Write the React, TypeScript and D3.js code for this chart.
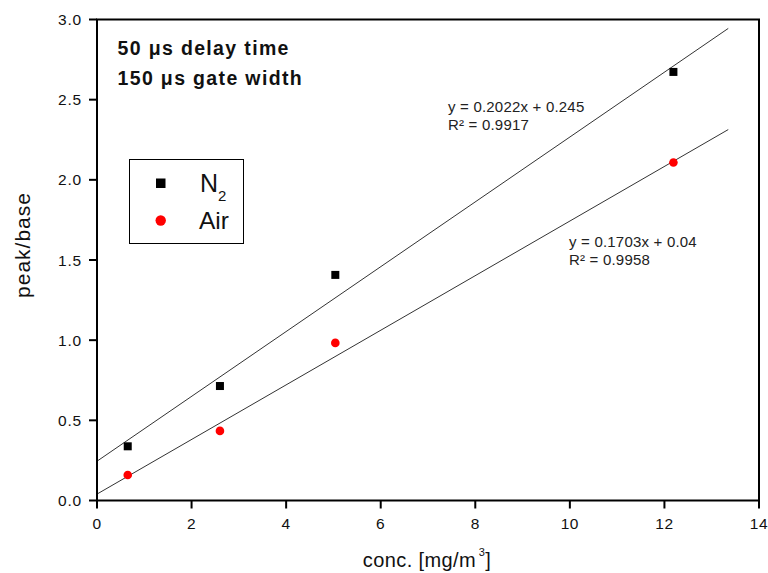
import React from "react";
import * as d3 from "d3";

const concN2 = [0.65, 2.6, 5.04, 12.19];
const peakN2 = [0.338, 0.714, 1.407, 2.673];
const concAir = [0.65, 2.6, 5.04, 12.19];
const peakAir = [0.159, 0.434, 0.983, 2.108];

const fitN2 = { slope: 0.2022, intercept: 0.245, r2: "0.9917" };
const fitAir = { slope: 0.1703, intercept: 0.04, r2: "0.9958" };
const fitRange = [0, 13.35];

const xTicks = [0, 2, 4, 6, 8, 10, 12, 14];
const yTicks = [0, 0.5, 1.0, 1.5, 2.0, 2.5, 3.0];

const W = 768;
const H = 573;
const L = 97;
const R = 759;
const T = 19.5;
const B = 500.5;

export default function App() {
  const x = d3.scaleLinear().domain([0, 14]).range([L, R]);
  const y = d3.scaleLinear().domain([0, 3]).range([B, T]);
  const line = d3
    .line<number>()
    .x((d) => x(d[0]))
    .y((d) => y(d[1]));
  const fitPath = (f: { slope: number; intercept: number }) =>
    line(fitRange.map((v) => [v, f.slope * v + f.intercept]) as any) as string;
  const font = "'Liberation Sans', Arial, sans-serif";

  return (
    <svg
      width={W}
      height={H}
      style={{ position: "absolute", left: 0, top: 0, background: "#fff" }}
      fontFamily={font}
    >
      <rect x={0} y={0} width={W} height={H} fill="#fff" />
      {/* fit lines */}
      <path d={fitPath(fitN2)} fill="none" stroke="#333" strokeWidth={1} />
      <path d={fitPath(fitAir)} fill="none" stroke="#333" strokeWidth={1} />
      {/* frame */}
      <rect x={L} y={T} width={R - L} height={B - T} fill="none" stroke="#000" strokeWidth={2} />
      {/* x ticks */}
      {xTicks.map((t) => (
        <g key={"x" + t}>
          <line x1={x(t)} x2={x(t)} y1={B} y2={B + 8} stroke="#000" strokeWidth={2} />
          <text x={x(t)} y={529} textAnchor="middle" fontSize={15.5} letterSpacing={0.6} fill="#111">
            {t}
          </text>
        </g>
      ))}
      {/* y ticks */}
      {yTicks.map((t) => (
        <g key={"y" + t}>
          <line x1={L - 8} x2={L} y1={y(t)} y2={y(t)} stroke="#000" strokeWidth={2} />
          <text x={82} y={y(t)} dy="0.36em" textAnchor="end" fontSize={15.5} letterSpacing={0.8} fill="#111">
            {t.toFixed(1)}
          </text>
        </g>
      ))}
      {/* points */}
      {concN2.map((c, i) => (
        <rect key={"n" + i} x={x(c) - 4} y={y(peakN2[i]) - 4} width={8} height={8} fill="#000" />
      ))}
      {concAir.map((c, i) => (
        <circle key={"a" + i} cx={x(c)} cy={y(peakAir[i])} r={4.3} fill="#ff0000" />
      ))}
      {/* axis labels */}
      <text x={427} y={566.5} textAnchor="middle" fontSize={20} letterSpacing={0.4} fill="#111">
        conc. [mg/m
        <tspan dy={-11} fontSize={11}>{"\u2009"}3</tspan>
        <tspan dy={11}>]</tspan>
      </text>
      <text
        transform={`translate(30,245) rotate(-90)`}
        textAnchor="middle"
        fontSize={21}
        letterSpacing={1}
        fill="#111"
      >
        peak/base
      </text>
      {/* title */}
      <text x={117.5} y={54.5} fontSize={19.5} letterSpacing={1.35} fontWeight="bold" fill="#111">
        50 μs delay time
      </text>
      <text x={117.5} y={84.5} fontSize={19.5} letterSpacing={1.35} fontWeight="bold" fill="#111">
        150 μs gate width
      </text>
      {/* equations */}
      <text x={448} y={111.5} fontSize={15} letterSpacing={0.2} fill="#222">
        y = {fitN2.slope}x + {fitN2.intercept}
      </text>
      <text x={448} y={129.5} fontSize={15} letterSpacing={0.2} fill="#222">
        R² = {fitN2.r2}
      </text>
      <text x={569} y={246.5} fontSize={15} letterSpacing={0.2} fill="#222">
        y = {fitAir.slope}x + {fitAir.intercept}
      </text>
      <text x={569} y={265} fontSize={15} letterSpacing={0.2} fill="#222">
        R² = {fitAir.r2}
      </text>
      {/* legend */}
      <rect x={129.5} y={159.5} width={114} height={84} fill="#fff" stroke="#000" strokeWidth={1} />
      <rect x={156} y={178.5} width={9.5} height={9.5} fill="#000" />
      <text x={200} y={191.5} fontSize={25} fill="#111">
        N
        <tspan dy={9} fontSize={15}>2</tspan>
      </text>
      <circle cx={160.7} cy={220.5} r={5.2} fill="#ff0000" />
      <text x={199} y={229} fontSize={24.5} fill="#111">
        Air
      </text>
    </svg>
  );
}
